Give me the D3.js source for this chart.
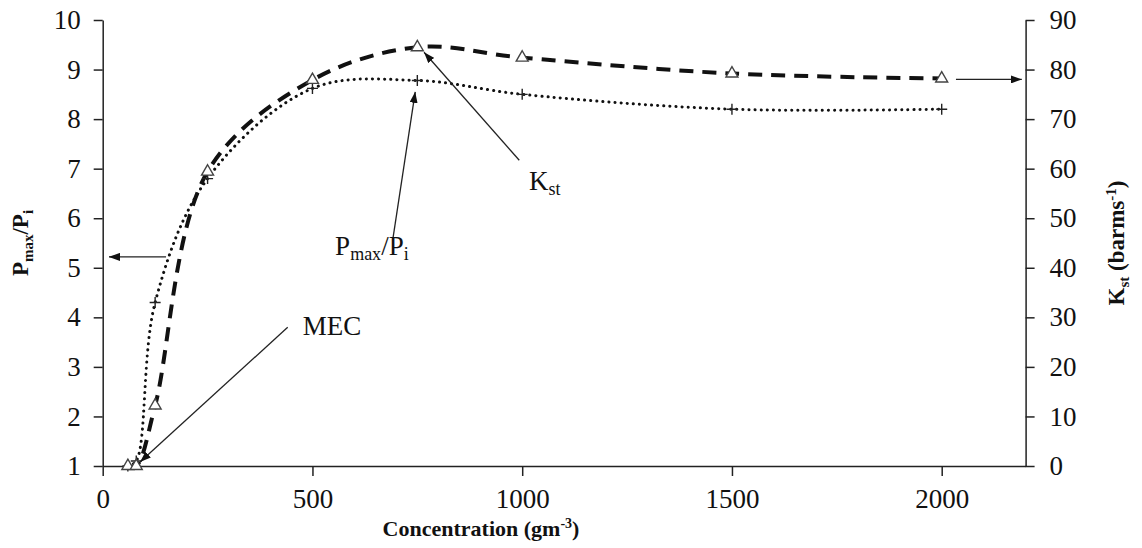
<!DOCTYPE html>
<html>
<head>
<meta charset="utf-8">
<script src="https://cdn.jsdelivr.net/npm/d3@7"></script>
<style>
  body { margin: 0; background: #fff; }
  svg text { font-family: "Liberation Serif", "Times New Roman", serif; fill: #111; }
</style>
</head>
<body>
<svg id="chart" width="1142" height="548"></svg>
<script>
// concentration (g/m3) and the two measured series
var concentration = [60, 80, 125, 250, 500, 750, 1000, 1500, 2000];
var pressureRatio = [1.0, 1.1, 4.3, 6.8, 8.62, 8.78, 8.5, 8.2, 8.2];   // Pmax/Pi
var kst = [0, 0, 12.2, 59.4, 77.9, 84.5, 82.4, 79.2, 78.2];            // barms-1

var xTicks = [0, 500, 1000, 1500, 2000];
var leftTicks = [1, 2, 3, 4, 5, 6, 7, 8, 9, 10];
var rightTicks = [0, 10, 20, 30, 40, 50, 60, 70, 80, 90];

var svg = d3.select("#chart");

var x = d3.scaleLinear().domain([0, 2200]).range([102.7, 1025.6]);
var yL = d3.scaleLinear().domain([1, 10]).range([466, 20]);
var yR = d3.scaleLinear().domain([0, 90]).range([466, 20]);

// arrow head
svg.append("defs").append("marker")
    .attr("id", "head")
    .attr("markerUnits", "userSpaceOnUse")
    .attr("viewBox", "0 0 11 8")
    .attr("refX", 11).attr("refY", 4)
    .attr("markerWidth", 11).attr("markerHeight", 8)
    .attr("orient", "auto")
  .append("path")
    .attr("d", "M0,0L11,4L0,8Z")
    .attr("fill", "#111");

/*---------------- axes ----------------*/
var axisColor = "#222";

var gx = svg.append("g")
    .attr("transform", "translate(0," + yL(1) + ")")
    .call(d3.axisBottom(x).tickValues(xTicks).tickFormat(d3.format("d"))
        .tickSize(10).tickSizeOuter(0).tickPadding(13));

var gl = svg.append("g")
    .attr("transform", "translate(" + x(0) + ",0)")
    .call(d3.axisLeft(yL).tickValues(leftTicks).tickSize(9).tickSizeOuter(0).tickPadding(13));

var gr = svg.append("g")
    .attr("transform", "translate(" + x(2200) + ",0)")
    .call(d3.axisRight(yR).tickValues(rightTicks).tickSize(9).tickSizeOuter(0).tickPadding(15));

[gx, gl, gr].forEach(function(g) {
    g.selectAll("path, line").attr("stroke", axisColor).attr("stroke-width", 1.5);
    g.selectAll("text")
        .style("font-family", "'Liberation Serif', serif")
        .style("font-size", "27px")
        .attr("fill", "#111");
});

/*---------------- curves ----------------*/
var pts = concentration.map(function(c, i) {
    return { c: c, p: pressureRatio[i], k: kst[i] };
});

var smooth = d3.curveCatmullRom.alpha(0.5);

svg.append("path")
    .datum(pts)
    .attr("fill", "none")
    .attr("stroke", "#111")
    .attr("stroke-width", 3)
    .attr("stroke-linecap", "round")
    .attr("stroke-dasharray", "0.1 6")
    .attr("d", d3.line().curve(smooth)
        .x(function(d) { return x(d.c); })
        .y(function(d) { return yL(d.p); }));

svg.append("path")
    .datum(pts)
    .attr("fill", "none")
    .attr("stroke", "#111")
    .attr("stroke-width", 4)
    .attr("stroke-dasharray", "14 9")
    .attr("d", d3.line().curve(smooth)
        .x(function(d) { return x(d.c); })
        .y(function(d) { return yR(d.k); }));

// plus markers for Pmax/Pi
svg.selectAll(".plus")
    .data(pts)
    .enter()
    .append("path")
    .attr("class", "plus")
    .attr("transform", function(d) { return "translate(" + x(d.c) + "," + yL(d.p) + ")"; })
    .attr("d", "M-5.5,0H5.5M0,-5.5V5.5")
    .attr("stroke", "#222")
    .attr("stroke-width", 1.4);

// open triangles for Kst
svg.selectAll(".tri")
    .data(pts)
    .enter()
    .append("path")
    .attr("class", "tri")
    .attr("transform", function(d) { return "translate(" + x(d.c) + "," + yR(d.k) + ")"; })
    .attr("d", d3.symbol(d3.symbolTriangle, 62))
    .attr("fill", "#fff")
    .attr("stroke", "#444")
    .attr("stroke-width", 1.4);

/*---------------- annotations ----------------*/
// arrows in data units: [conc0, value0, conc1, value1, which axis]
var arrows = [
    [151, 5.22, 15, 5.22, "L"],
    [2034, 78.0, 2191, 78.0, "R"],
    [993, 61.7, 766, 83.5, "R"],
    [692, 5.6, 745, 8.55, "L"],
    [441, 3.8, 89, 1.08, "L"]
];

svg.selectAll(".arrow")
    .data(arrows)
    .enter()
    .append("line")
    .attr("class", "arrow")
    .attr("x1", function(d) { return x(d[0]); })
    .attr("x2", function(d) { return x(d[2]); })
    .attr("y1", function(d) { return (d[4] == "L" ? yL : yR)(d[1]); })
    .attr("y2", function(d) { return (d[4] == "L" ? yL : yR)(d[3]); })
    .attr("stroke", "#222")
    .attr("stroke-width", 1.3)
    .attr("marker-end", "url(#head)");

function subLabel(g, main, sub, tail, tailSub, size) {
    var t = g.append("text").style("font-size", size + "px");
    t.append("tspan").text(main);
    t.append("tspan").text(sub).style("font-size", Math.round(size * 0.66) + "px").attr("dy", size * 0.2);
    if (tail) {
        t.append("tspan").text(tail).attr("dy", -size * 0.2);
        t.append("tspan").text(tailSub).style("font-size", Math.round(size * 0.66) + "px").attr("dy", size * 0.2);
    }
    return t;
}

svg.append("text")
    .attr("x", x(477)).attr("y", yL(3.64))
    .style("font-size", "27px")
    .text("MEC");

var kLab = svg.append("g").attr("transform", "translate(" + x(1016) + "," + yR(55.7) + ")");
subLabel(kLab, "K", "st", null, null, 27);

var pLab = svg.append("g").attr("transform", "translate(" + x(554) + "," + yL(5.26) + ")");
subLabel(pLab, "P", "max", "/P", "i", 27);

/*---------------- axis titles ----------------*/
var xt = svg.append("text")
    .attr("x", 481).attr("y", 536)
    .attr("text-anchor", "middle")
    .style("font-size", "22px")
    .style("font-weight", "bold");
xt.append("tspan").text("Concentration (gm");
xt.append("tspan").text("-3").style("font-size", "14px").attr("dy", -8);
xt.append("tspan").text(")").attr("dy", 8);

var lt = svg.append("g").attr("transform", "translate(28,243) rotate(-90)");
subLabel(lt, "P", "max", "/P", "i", 23)
    .attr("text-anchor", "middle")
    .style("font-weight", "bold");

var rt = svg.append("g").attr("transform", "translate(1124,243) rotate(-90)");
var rtt = rt.append("text")
    .attr("text-anchor", "middle")
    .style("font-size", "23px")
    .style("font-weight", "bold");
rtt.append("tspan").text("K");
rtt.append("tspan").text("st").style("font-size", "15px").attr("dy", 5);
rtt.append("tspan").text(" (barms").attr("dy", -5);
rtt.append("tspan").text("-1").style("font-size", "15px").attr("dy", -8);
rtt.append("tspan").text(")").attr("dy", 8);
</script>
</body>
</html>
